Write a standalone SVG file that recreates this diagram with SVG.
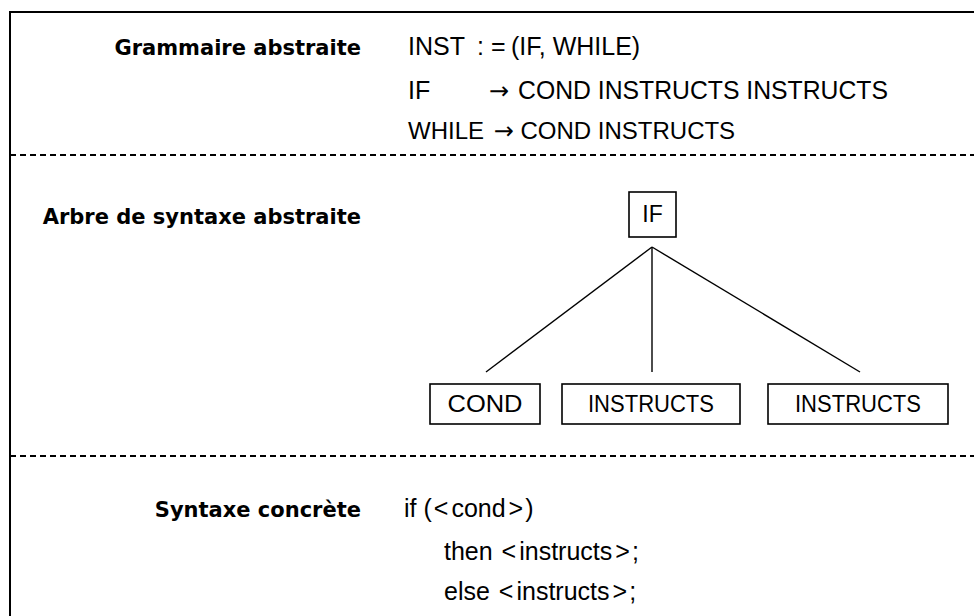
<svg xmlns="http://www.w3.org/2000/svg" width="974" height="616" viewBox="0 0 974 616">
<style>
.lbl{font-family:"DejaVu Sans",sans-serif;font-weight:bold;font-size:21px;text-anchor:end;fill:#000}
.txt{font-family:"Liberation Sans",Arial,sans-serif;font-size:25px;fill:#000}
.arr{font-family:"DejaVu Sans",sans-serif;font-size:24px;fill:#000}
.nt{font-family:"Liberation Sans",Arial,sans-serif;font-size:23px;text-anchor:middle;fill:#000}
.box{fill:#fff;stroke:#000;stroke-width:1.6}
.edge{stroke:#000;stroke-width:1.4;fill:none}
.dash{stroke:#000;stroke-width:2;stroke-dasharray:6 4}
.frame{stroke:#000;stroke-width:2;fill:none}
</style>
<rect width="974" height="616" fill="#fff"/>
<path class="frame" d="M10,616 V12 H974"/>
<line class="dash" x1="10" y1="155" x2="974" y2="155"/>
<line class="dash" x1="10" y1="456" x2="974" y2="456"/>

<g id="grammaire">
<text class="lbl" x="361" y="55">Grammaire abstraite</text>
<text class="txt" x="408" y="55">INST</text>
<text class="txt" x="477" y="55">: =</text>
<text class="txt" x="511" y="55">(IF, WHILE)</text>
<text class="txt" x="408" y="99">IF</text>
<text class="arr" x="489" y="99">→</text>
<text class="txt" x="518" y="99" textLength="370" lengthAdjust="spacingAndGlyphs">COND INSTRUCTS INSTRUCTS</text>
<text class="txt" x="408" y="139" style="font-size:24px">WHILE <tspan class="arr" dx="3">→</tspan> COND INSTRUCTS</text>
</g>

<text class="lbl" x="361" y="224">Arbre de syntaxe abstraite</text>

<g id="connectors">
<line class="edge" x1="652" y1="247" x2="486" y2="372"/>
<line class="edge" x1="652" y1="247" x2="652" y2="372"/>
<line class="edge" x1="652" y1="247" x2="860" y2="372"/>
</g>

<g id="node-if">
<rect class="box" x="629" y="192" width="47" height="45"/>
<text class="nt" x="652.5" y="222">IF</text>
</g>
<g id="node-cond">
<rect class="box" x="430" y="384" width="110" height="40"/>
<text class="nt" x="485" y="412" textLength="75" lengthAdjust="spacingAndGlyphs">COND</text>
</g>
<g id="node-instructs1">
<rect class="box" x="562" y="384" width="178" height="40"/>
<text class="nt" x="651" y="412" textLength="126" lengthAdjust="spacingAndGlyphs">INSTRUCTS</text>
</g>
<g id="node-instructs2">
<rect class="box" x="768" y="384" width="180" height="40"/>
<text class="nt" x="858" y="412" textLength="126" lengthAdjust="spacingAndGlyphs">INSTRUCTS</text>
</g>

<g id="concrete">
<text class="lbl" x="361" y="517">Syntaxe concrète</text>
<text class="txt" x="404" y="517">if (<tspan dx="2">&lt;</tspan><tspan dx="3">cond</tspan><tspan dx="3">&gt;</tspan><tspan dx="2">)</tspan></text>
<text class="txt" x="444" y="560">then <tspan dx="2">&lt;</tspan><tspan dx="3">instructs</tspan><tspan dx="3">&gt;</tspan><tspan dx="2">;</tspan></text>
<text class="txt" x="444" y="600">else <tspan dx="2">&lt;</tspan><tspan dx="3">instructs</tspan><tspan dx="3">&gt;</tspan><tspan dx="2">;</tspan></text>
</g>
</svg>
